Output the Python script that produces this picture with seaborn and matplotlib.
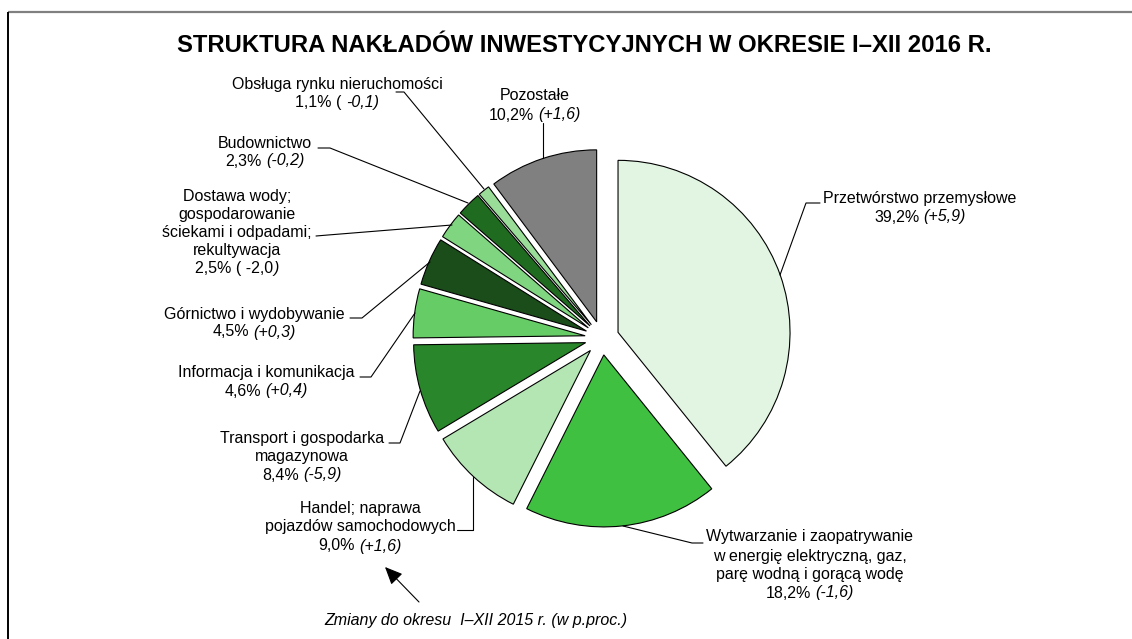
import matplotlib
matplotlib.use("Agg")
import matplotlib.pyplot as plt
import seaborn as sns

# Investment outlays by section, share in % (I–XII 2016) and change in p.p.
sectors = [
    "Przetwórstwo przemysłowe",
    "Wytwarzanie i zaopatrywanie w energię elektryczną, gaz, parę wodną i gorącą wodę",
    "Handel; naprawa pojazdów samochodowych",
    "Transport i gospodarka magazynowa",
    "Informacja i komunikacja",
    "Górnictwo i wydobywanie",
    "Dostawa wody; gospodarowanie ściekami i odpadami; rekultywacja",
    "Budownictwo",
    "Obsługa rynku nieruchomości",
    "Pozostałe",
]
shares = [39.2, 18.2, 9.0, 8.4, 4.6, 4.5, 2.5, 2.3, 1.1, 10.2]
changes = ["(+5,9)", "(-1,6)", "(+1,6)", "(-5,9)", "(+0,4)", "(+0,3)", "-2,0", "(-0,2)", "-0,1", "(+1,6)"]
colors = ["#E2F5E2", "#40C040", "#B3E6B3", "#2A862A", "#66CC66",
          "#1A4D1A", "#80D680", "#1F6B1F", "#99DD99", "#808080"]

title = "STRUKTURA NAKŁADÓW INWESTYCYJNYCH W OKRESIE I–XII 2016 R."
note = "Zmiany do okresu  I–XII 2015 r. (w p.proc.)"

sns.set_theme(style="white")
plt.rcParams["font.family"] = ["Liberation Sans", "DejaVu Sans"]
plt.rcParams["text.color"] = "black"

W, H = 1132, 639
fig = plt.figure(figsize=(W / 100, H / 100), dpi=100)
ax = fig.add_axes([0, 0, 1, 1])


def Y(y):
    return H - y


# pie drawn in pixel units: explode offsets are absolute distances
ax.pie(shares, colors=colors, startangle=90, counterclock=False,
       explode=[17] * len(shares), radius=172, center=(602, Y(338)),
       wedgeprops=dict(edgecolor="black", linewidth=0.8), frame=True)
ax.set_xlim(0, W)
ax.set_ylim(0, H)
ax.set_aspect("auto")
ax.axis("off")

# frame of the chart area
ax.plot([8, W], [Y(12), Y(12)], color="#808080", lw=1.6, solid_capstyle="butt")
ax.plot([8, 8], [Y(12), 0], color="black", lw=1.4, solid_capstyle="butt")

ax.text(584, Y(46), title, ha="center", va="center", fontsize=17.2, fontweight="bold")

FS = 11.5
renderer = fig.canvas.get_renderer()


def width(s, style):
    t = ax.text(0, 0, s, fontsize=FS, style=style)
    w = t.get_window_extent(renderer).width
    t.remove()
    return w


def mixed_line(xc, y, regular, italic, gap=4.0):
    """Centered line made of an upright part followed by an italic part."""
    w1 = width(regular, "normal") if regular else 0
    w2 = width(italic, "italic") if italic else 0
    x0 = xc - (w1 + gap + w2) / 2
    if regular:
        ax.text(x0, Y(y), regular, ha="left", va="center", fontsize=FS)
    if italic:
        ax.text(x0 + w1 + gap, Y(y), italic, ha="left", va="center",
                fontsize=FS, style="italic")


def fmt(v):
    return f"{v:.1f}%".replace(".", ",")


# label blocks: text lines, center x, line y positions
label_lines = [
    (["Przetwórstwo przemysłowe"], 920, [199, 217]),
    (["Wytwarzanie i zaopatrywanie", "w energię elektryczną, gaz,", "parę wodną i gorącą wodę"], 810, [537, 556, 575, 593]),
    (["Handel; naprawa", "pojazdów samochodowych"], 360, [508, 527, 546]),
    (["Transport i gospodarka", "magazynowa"], 302, [438, 457, 475]),
    (["Informacja i komunikacja"], 266, [372, 391]),
    (["Górnictwo i wydobywanie"], 254, [314, 332]),
    (["Dostawa wody;", "gospodarowanie", "ściekami i odpadami;", "rekultywacja"], 237, [197, 215, 233, 251, 269]),
    (["Budownictwo"], 265, [143, 161]),
    (["Obsługa rynku nieruchomości"], 337, [85, 103]),
    (["Pozostałe"], 535, [96, 115]),
]

for i, (lines, xc, ys) in enumerate(label_lines):
    for line, y in zip(lines, ys):
        ax.text(xc, Y(y), line, ha="center", va="center", fontsize=FS)
    yv = ys[-1]
    name = sectors[i]
    if name == "Obsługa rynku nieruchomości":
        mixed_line(xc, yv, fmt(shares[i]) + " (", changes[i] + ")", gap=4)
    elif name.startswith("Dostawa"):
        mixed_line(xc, yv, fmt(shares[i]) + " ( " + changes[i], ")", gap=0.5)
    else:
        mixed_line(xc, yv, fmt(shares[i]), changes[i])

# leader lines
leaders = [
    [(820, 203), (806, 203), (780, 275)],
    [(703, 543), (692, 543), (623, 526)],
    [(457, 530), (473, 530), (473, 477)],
    [(389, 443), (400, 443), (420, 391)],
    [(360, 377), (371, 377), (415, 313)],
    [(350, 318), (362, 318), (430, 262)],
    [(316, 236), (328, 235), (452, 225)],
    [(318, 148), (330, 148), (468, 203)],
    [(396, 92), (404, 92), (484, 189)],
    [(543, 123), (543, 158)],
]
for pts in leaders:
    xs = [p[0] for p in pts]
    ys = [Y(p[1]) for p in pts]
    ax.plot(xs, ys, color="black", lw=0.8)

ax.text(476, Y(621), note, ha="center", va="center", fontsize=FS, style="italic")
ax.annotate("", xy=(385, Y(567)), xytext=(419, Y(602)),
            arrowprops=dict(arrowstyle="-|>,head_length=0.9,head_width=0.4",
                            color="black", lw=0.8, shrinkA=0, shrinkB=0))

fig.savefig("out.png", dpi=100, facecolor="white")
